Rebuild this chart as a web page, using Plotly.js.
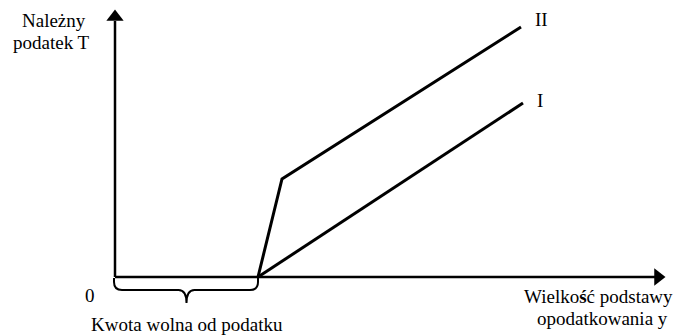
<!DOCTYPE html>
<html><head><meta charset="utf-8">
<script src="https://cdn.plot.ly/plotly-3.0.1.min.js"></script>
<style>html,body{margin:0;padding:0;background:#fff}</style>
</head><body>
<div id="chart" style="width:685px;height:335px"></div>
<script>
// Data (abstract units: income base y along x, tax T along y)
const threshold = 143;                 // kwota wolna od podatku
const lineI_x = [143, 408];
const lineI_y = [0, 174];
const lineII_x = [143, 167, 406];
const lineII_y = [0, 98, 250];
const axisX_end = 540, axisY_end = 256;
const labels = {
  yTitle1: 'Należny', yTitle2: 'podatek T',
  xTitle1: 'Wielko<b>ś</b>ć podstawy', xTitle2: 'opodatkowania y',
  zero: '0', brace: 'Kwota wolna od podatku', I: 'I', II: 'II'
};

const black = '#000';
const traces = [
  {x:[0,0], y:[0,axisY_end], mode:'lines', line:{color:black,width:2.5}, hoverinfo:'skip'},
  {x:[0,axisX_end], y:[0,0], mode:'lines', line:{color:black,width:2.5}, hoverinfo:'skip'},
  {x:[0], y:[axisY_end+4], mode:'markers', marker:{symbol:'triangle-up', size:15, color:black}, hoverinfo:'skip'},
  {x:[axisX_end+3], y:[0], mode:'markers', marker:{symbol:'triangle-right', size:15, color:black}, hoverinfo:'skip'},
  {x:lineI_x, y:lineI_y, mode:'lines', line:{color:black,width:3}, hoverinfo:'skip'},
  {x:lineII_x, y:lineII_y, mode:'lines', line:{color:black,width:3}, hoverinfo:'skip'}
];

const t = threshold, m = threshold/2;
const bracePath = `M -1,-1 L -1,-5 Q -1,-13 7,-13 L ${m-8},-13 Q ${m},-13 ${m},-26 Q ${m},-13 ${m+8},-13 L ${t-8},-13 Q ${t},-13 ${t},-5 L ${t},-1`;

const font = {family:'"Liberation Serif", "DejaVu Serif", serif', size:19, color:black};
function ann(text, x, y){
  return {text:text, x:x, y:y, xref:'x', yref:'y', showarrow:false, font:font,
          xanchor:'center', yanchor:'middle', borderpad:0};
}

const layout = {
  width:685, height:335,
  margin:{l:0,r:0,t:0,b:0},
  paper_bgcolor:'#fff', plot_bgcolor:'#fff',
  showlegend:false,
  font:{family:'"Liberation Serif", serif'},
  xaxis:{range:[-115,570], visible:false, fixedrange:true},
  yaxis:{range:[-58,277], visible:false, fixedrange:true},
  shapes:[{type:'path', path:bracePath, xref:'x', yref:'y', line:{color:black,width:2}}],
  annotations:[
    ann(labels.yTitle1, -61, 257),
    ann(labels.yTitle2, -64, 235),
    ann(labels.zero, -25, -18),
    ann(labels.brace, 72, -47),
    ann(labels.xTitle1, 483, -19),
    ann(labels.xTitle2, 487, -41),
    ann(labels.II, 426, 258),
    ann(labels.I, 425, 177)
  ]
};

Plotly.newPlot('chart', traces, layout, {staticPlot:true, displayModeBar:false});
</script>
</body></html>
